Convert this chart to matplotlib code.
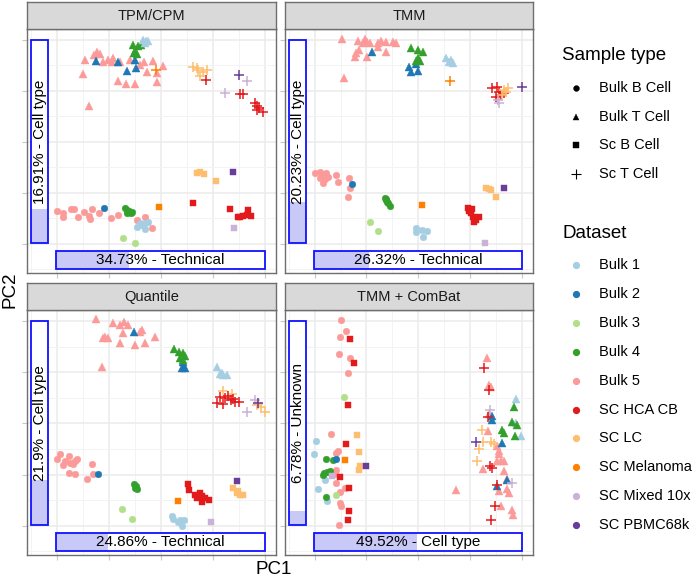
import matplotlib
matplotlib.use("Agg")
import matplotlib.pyplot as plt
from matplotlib.patches import Rectangle

plt.rcParams['font.family'] = ['Liberation Sans', 'DejaVu Sans']

W, H = 692, 579

methods = ['TPM/CPM', 'TMM', 'Quantile', 'TMM + ComBat']
pc1_pct = ['34.73', '26.32', '24.86', '49.52']
pc1_src = ['Technical', 'Technical', 'Technical', 'Cell type']
pc2_pct = ['16.91', '20.23', '21.9', '6.78']
pc2_src = ['Cell type', 'Cell type', 'Cell type', 'Unknown']

sample_types = ['Bulk B Cell', 'Bulk T Cell', 'Sc B Cell', 'Sc T Cell']
type_marker = {'Bulk B Cell': 'o', 'Bulk T Cell': '^', 'Sc B Cell': 's', 'Sc T Cell': '+'}
type_size = {'Bulk B Cell': 4.8, 'Bulk T Cell': 5.8, 'Sc B Cell': 5.0, 'Sc T Cell': 7}

datasets = ['Bulk 1', 'Bulk 2', 'Bulk 3', 'Bulk 4', 'Bulk 5', 'SC HCA CB',
            'SC LC', 'SC Melanoma', 'SC Mixed 10x', 'SC PBMC68k']
ds_colors = ['#A6CEE3', '#1F78B4', '#B2DF8A', '#33A02C', '#FB9A99', '#E31A1C',
             '#FDBF6F', '#FF7F00', '#CAB2D6', '#6A3D9A']

# (dataset, sample type, PC1 scores, PC2 scores)
tpm_groups = [
    ('Bulk 5', 'Bulk T Cell',
     [23.0, 22.2, 24.0, 19.5, 25.0, 26.5, 27.5, 28.0, 30.0, 33.0, 37.2, 39.8, 43.0, 19.0, 38.0, 41.0, 29.5, 31.8, 34.5, 41.2, 20.8, 36.0],
     [-15.5, -16.5, -16.3, -18.0, -18.5, -18.0, -18.5, -17.5, -18.5, -18.0, -18.5, -18.2, -19.8, -22.2, -21.5, -21.8, -24.2, -25.2, -25.2, -24.5, -31.7, -19.5]),
    ('Bulk 2', 'Bulk T Cell', [22.8, 29.3, 34.5, 32.0, 34.8], [-18.3, -18.5, -18.0, -21.2, -20.5]),
    ('Bulk 4', 'Bulk T Cell', [34.0, 35.5, 36.2, 34.5, 35.0, 34.2], [-13.5, -13.8, -13.5, -15.2, -16.2, -16.0]),
    ('Bulk 1', 'Bulk T Cell', [36.8, 37.8, 38.5, 37.4], [-12.0, -12.4, -12.2, -13.0]),
    ('Bulk 5', 'Bulk B Cell',
     [11.0, 13.0, 15.2, 16.2, 13.0, 17.5, 19.2, 21.5, 21.0, 20.7, 23.7, 27.2, 29.5, 37.5, 39.5, 35.2],
     [-63.2, -64.0, -62.6, -62.6, -65.0, -65.0, -63.6, -62.6, -65.7, -64.7, -64.0, -65.5, -64.5, -65.0, -68.5, -66.0]),
    ('Bulk 2', 'Bulk B Cell', [25.2], [-62.5]),
    ('Bulk 4', 'Bulk B Cell', [31.5, 32.0, 32.6, 33.2, 33.7, 32.2], [-62.5, -63.0, -63.4, -63.8, -63.5, -64.0]),
    ('Bulk 1', 'Bulk B Cell', [35.0, 36.0, 37.5, 38.5, 37.5, 36.5], [-68.0, -67.0, -66.8, -66.5, -68.8, -67.6]),
    ('Bulk 3', 'Bulk B Cell', [31.0, 34.5], [-71.5, -73.0]),
    ('SC Melanoma', 'Sc B Cell', [41.8], [-62.0]),
    ('SC LC', 'Sc B Cell', [53.0, 54.0, 55.2, 58.8], [-51.8, -51.5, -52.2, -54.2]),
    ('SC PBMC68k', 'Sc B Cell', [64.0], [-51.5]),
    ('SC HCA CB', 'Sc B Cell', [52.0, 63.0, 65.5, 66.8, 68.0, 69.2, 68.5, 66.0], [-60.8, -62.8, -65.2, -64.8, -64.5, -64.8, -63.0, -65.0]),
    ('SC Mixed 10x', 'Sc B Cell', [64.3], [-68.5]),
    ('SC LC', 'Sc T Cell', [52.0, 53.5, 54.8, 56.2, 54.0, 53.0], [-20.0, -21.0, -21.5, -21.0, -22.8, -20.5]),
    ('SC Melanoma', 'Sc T Cell', [40.8], [-21.0]),
    ('SC HCA CB', 'Sc T Cell', [55.8, 66.0, 66.8, 70.5, 71.0, 71.8, 73.0, 71.2], [-24.0, -28.2, -28.2, -31.0, -31.8, -32.5, -33.5, -33.0]),
    ('SC PBMC68k', 'Sc T Cell', [65.8], [-22.5]),
    ('SC Mixed 10x', 'Sc T Cell', [68.0, 61.5], [-24.3, -28.0]),
]

tmm_groups = [
    ('Bulk 5', 'Bulk T Cell',
     [21.8, 26.5, 28.5, 29.2, 28.0, 30.0, 32.5, 33.5, 35.0, 37.0, 37.8, 26.8, 26.0, 25.5, 29.2, 35.0, 32.5, 22.4],
     [-11.8, -12.2, -11.8, -12.5, -13.0, -12.8, -13.0, -12.2, -12.5, -12.5, -13.0, -15.0, -16.0, -17.0, -17.2, -15.5, -14.0, -23.5]),
    ('Bulk 2', 'Bulk T Cell', [30.7, 42.0, 42.5, 44.5, 44.0], [-15.5, -20.0, -21.5, -21.2, -19.2]),
    ('Bulk 4', 'Bulk T Cell', [42.5, 44.5, 46.0, 44.5, 44.0, 45.2], [-14.5, -15.0, -15.5, -17.5, -18.2, -18.2]),
    ('Bulk 1', 'Bulk T Cell', [53.0, 54.0, 55.2, 54.5], [-17.5, -18.5, -19.0, -18.0]),
    ('SC Melanoma', 'Sc T Cell', [54.3], [-24.3]),
    ('SC HCA CB', 'Sc T Cell', [66.8, 68.5, 69.0, 68.0, 69.5, 70.5], [-26.5, -26.2, -27.5, -29.0, -28.5, -27.8]),
    ('SC LC', 'Sc T Cell', [70.5, 71.2, 71.8, 70.0], [-27.0, -27.5, -26.5, -28.5]),
    ('SC Mixed 10x', 'Sc T Cell', [69.0, 68.8], [-31.0, -30.0]),
    ('SC PBMC68k', 'Sc T Cell', [76.0], [-26.0]),
    ('Bulk 5', 'Bulk B Cell',
     [13.5, 15.0, 15.5, 17.0, 17.5, 16.5, 15.0, 16.0, 20.0, 20.5, 23.7, 24.0, 23.5],
     [-52.0, -51.5, -52.5, -52.0, -53.0, -53.8, -53.5, -55.0, -52.5, -54.5, -53.5, -56.5, -59.0]),
    ('Bulk 2', 'Bulk B Cell', [24.7], [-55.2]),
    ('Bulk 4', 'Bulk B Cell', [34.5, 35.0, 35.5, 36.0, 35.2, 34.8], [-59.5, -60.0, -61.0, -61.7, -60.5, -59.8]),
    ('Bulk 3', 'Bulk B Cell', [30.0, 32.5], [-66.5, -69.2]),
    ('Bulk 1', 'Bulk B Cell', [44.0, 44.0, 45.8, 47.2, 46.2], [-68.3, -69.5, -69.0, -69.2, -71.2]),
    ('SC Melanoma', 'Sc B Cell', [45.7], [-61.6]),
    ('SC LC', 'Sc B Cell', [65.0, 66.5, 68.2, 66.0], [-56.5, -57.0, -59.0, -56.8]),
    ('SC PBMC68k', 'Sc B Cell', [70.5], [-56.3]),
    ('SC HCA CB', 'Sc B Cell', [59.7, 60.5, 61.2, 62.0, 63.0, 61.5, 59.8, 60.8], [-62.5, -64.0, -65.0, -66.0, -65.0, -66.5, -63.2, -62.8]),
    ('SC Mixed 10x', 'Sc B Cell', [64.7], [-73.0]),
]

quant_groups = [
    ('Bulk 5', 'Bulk T Cell',
     [22.8, 28.0, 30.0, 31.2, 32.5, 36.5, 36.0, 40.5, 25.5, 26.5, 30.8, 30.0, 34.5, 37.5, 24.5, 25.0],
     [-12.3, -13.5, -14.0, -13.2, -14.0, -15.5, -16.2, -17.5, -17.5, -18.0, -16.5, -19.5, -20.0, -19.5, -26.5, -17.8]),
    ('Bulk 2', 'Bulk T Cell', [34.2, 48.8, 49.2, 49.6, 48.5], [-16.2, -25.2, -26.5, -27.0, -26.8]),
    ('Bulk 4', 'Bulk T Cell', [46.3, 47.8, 49.0, 49.5, 48.8, 48.0], [-21.2, -22.0, -22.5, -23.2, -24.5, -24.0]),
    ('Bulk 1', 'Bulk T Cell', [59.0, 60.0, 61.0, 62.0, 60.5], [-26.5, -28.5, -29.0, -29.0, -28.2]),
    ('SC LC', 'Sc T Cell', [61.0, 63.5, 71.5, 72.2, 73.5, 71.0], [-33.8, -34.5, -37.5, -38.5, -40.0, -38.0]),
    ('SC HCA CB', 'Sc T Cell', [60.0, 59.0, 61.0, 63.2, 64.0, 64.5, 65.8, 61.5, 62.5], [-35.5, -37.2, -37.5, -36.5, -36.0, -37.0, -37.0, -35.8, -35.2]),
    ('SC Mixed 10x', 'Sc T Cell', [68.0, 70.5], [-40.0, -36.5]),
    ('SC PBMC68k', 'Sc T Cell', [71.5], [-37.2]),
    ('Bulk 5', 'Bulk B Cell',
     [12.0, 11.0, 13.5, 14.8, 15.0, 16.0, 16.5, 17.0, 14.8, 16.5, 20.0, 21.5, 22.0, 13.0],
     [-52.5, -54.0, -54.5, -53.0, -55.0, -55.5, -54.5, -54.0, -58.0, -58.5, -59.8, -55.5, -58.5, -55.8]),
    ('Bulk 2', 'Bulk B Cell', [23.3], [-58.5]),
    ('Bulk 4', 'Bulk B Cell', [34.3, 34.5, 35.0, 34.8], [-61.5, -62.5, -63.0, -62.0]),
    ('Bulk 3', 'Bulk B Cell', [30.5, 33.7], [-68.8, -71.7]),
    ('Bulk 1', 'Bulk B Cell', [45.5, 45.8, 48.0, 49.2, 48.5, 47.5], [-70.8, -71.8, -72.0, -72.2, -73.8, -72.8]),
    ('SC Melanoma', 'Sc B Cell', [47.5], [-66.5]),
    ('SC HCA CB', 'Sc B Cell', [50.5, 50.8, 52.5, 53.0, 54.5, 54.5, 55.5, 56.8, 54.0], [-61.5, -63.2, -64.5, -65.5, -65.0, -66.8, -65.5, -66.0, -64.0]),
    ('SC LC', 'Sc B Cell', [64.0, 65.0, 66.0, 67.0, 65.5], [-62.5, -64.0, -64.5, -64.5, -63.5]),
    ('SC PBMC68k', 'Sc B Cell', [65.0], [-60.5]),
    ('SC Mixed 10x', 'Sc B Cell', [57.2], [-72.8]),
]

combat_groups = [
    ('Bulk 5', 'Bulk B Cell',
     [21.5, 23.0, 21.2, 20.8, 24.2, 23.5, 18.5, 20.5, 20.0, 20.0, 22.5, 21.0, 20.0, 21.0, 21.5, 20.7, 19.5],
     [-12.5, -15.7, -17.7, -22.8, -24.0, -28.3, -46.5, -51.5, -52.2, -57.2, -62.5, -63.7, -61.2, -67.0, -68.0, -73.7, -58.5]),
    ('Bulk 3', 'Bulk B Cell', [22.3, 19.8], [-35.5, -64.5]),
    ('Bulk 1', 'Bulk B Cell', [13.8, 13.3, 16.5, 14.5, 17.3], [-48.7, -52.3, -60.2, -63.0, -66.5]),
    ('Bulk 4', 'Bulk B Cell', [16.8, 19.0, 16.3, 17.2, 18.0, 15.8, 17.0], [-53.8, -54.2, -58.2, -57.8, -57.5, -58.8, -65.2]),
    ('Bulk 2', 'Bulk B Cell', [20.0], [-54.0]),
    ('SC HCA CB', 'Sc B Cell', [24.0, 25.2, 23.5, 22.8, 21.0, 23.7, 23.8, 23.5], [-18.3, -25.5, -38.0, -49.5, -59.3, -62.5, -69.5, -72.0]),
    ('SC LC', 'Sc B Cell', [26.2, 26.8, 27.0, 26.8], [-46.8, -52.0, -56.0, -57.3]),
    ('SC Melanoma', 'Sc B Cell', [22.7], [-54.2]),
    ('SC PBMC68k', 'Sc B Cell', [29.0], [-56.0]),
    ('SC Mixed 10x', 'Sc B Cell', [18.8], [-59.0]),
    ('Bulk 5', 'Bulk T Cell',
     [65.2, 66.0, 66.5, 65.8, 65.5, 68.5, 69.0, 69.0, 69.5, 70.5, 68.5, 64.0, 70.5, 71.5, 69.0, 71.5, 72.0, 69.5, 73.0, 73.2, 56.0],
     [-24.0, -31.8, -32.5, -40.5, -45.5, -50.0, -51.5, -52.5, -54.5, -54.5, -54.5, -57.0, -57.5, -60.0, -63.5, -63.0, -64.0, -68.0, -69.0, -70.5, -63.2]),
    ('Bulk 1', 'Bulk T Cell', [74.2, 74.2, 75.5], [-36.0, -43.2, -47.0]),
    ('Bulk 4', 'Bulk T Cell', [73.5, 73.0, 70.0, 70.5, 73.8, 74.5], [-38.5, -42.8, -45.2, -46.2, -47.0, -43.8]),
    ('Bulk 2', 'Bulk T Cell', [66.8, 70.0, 71.5, 68.5, 66.8], [-41.0, -49.2, -60.3, -62.0, -42.2]),
    ('SC HCA CB', 'Sc T Cell', [64.5, 65.8, 65.5, 66.2, 66.8, 68.5, 67.8, 66.5], [-26.8, -33.5, -41.5, -56.0, -56.5, -61.8, -68.0, -72.0]),
    ('SC LC', 'Sc T Cell', [63.8, 64.0, 63.0, 62.2, 66.5, 67.5], [-45.2, -49.0, -51.0, -54.5, -49.0, -49.5]),
    ('SC Mixed 10x', 'Sc T Cell', [66.2, 73.0], [-39.5, -61.2]),
    ('SC PBMC68k', 'Sc T Cell', [62.0], [-49.0]),
]

panel_groups = [tpm_groups, tmm_groups, quant_groups, combat_groups]
panel_xlim = [(2.1, 76.8), (4.5, 79.2), (2.1, 76.8), (4.5, 79.2)]
panel_ylim = [(-81.9, -8.7), (-81.9, -8.7), (-82.5, -9.6), (-82.5, -9.6)]

# pixel boxes (left, top, right, bottom)
panel_px = [(27, 29, 276, 273), (285, 29, 533, 273), (27, 310, 276, 555), (285, 310, 533, 555)]
strip_px = [(27, 2, 276, 29), (285, 2, 533, 29), (27, 283, 276, 310), (285, 283, 533, 310)]


def px_rect(b):
    x0, y0, x1, y1 = b
    return [x0 / W, 1 - y1 / H, (x1 - x0) / W, (y1 - y0) / H]


fig = plt.figure(figsize=(W / 100, H / 100), dpi=100)
border = '#6e6e6e'
box_blue = '#1010ff'
fill_blue = '#c9c9f7'
color_of = dict(zip(datasets, ds_colors))

for i in range(4):
    ax = fig.add_axes(px_rect(panel_px[i]))
    x0, x1 = panel_xlim[i]
    y0, y1 = panel_ylim[i]
    ax.set_xlim(x0, x1)
    ax.set_ylim(y0, y1)
    fr = [0.015 + 0.1045 * k for k in range(10)]
    ax.set_xticks([x0 + (x1 - x0) * f for f in fr[1::2]])
    ax.set_xticks([x0 + (x1 - x0) * f for f in fr[0::2]], minor=True)
    ax.set_yticks([y0 + (y1 - y0) * f for f in fr[1::2]])
    ax.set_yticks([y0 + (y1 - y0) * f for f in fr[0::2]], minor=True)
    ax.grid(which='major', color='#ebebeb', lw=1.1)
    ax.grid(which='minor', color='#f3f3f3', lw=0.7)
    ax.set_axisbelow(True)
    ax.tick_params(which='major', length=3.5, color='#c8c8c8', labelleft=False, labelbottom=False)
    ax.tick_params(which='minor', length=0)
    for s in ax.spines.values():
        s.set_color(border)
        s.set_linewidth(1.0)

    for ds, st, xs, ys in panel_groups[i]:
        c = color_of[ds]
        m = type_marker[st]
        ax.plot(xs, ys, ls='none', marker=m, ms=type_size[st], mfc=c, mec=c,
                mew=1.1 if m == '+' else 0.3)

    # PC2 variance box (vertical)
    bx0, bx1, by0, by1 = 0.018, 0.086, 0.123, 0.955
    frac = float(pc2_pct[i]) / 100
    ax.add_patch(Rectangle((bx0, by0), bx1 - bx0, by1 - by0, transform=ax.transAxes,
                           facecolor='white', edgecolor='none', zorder=4))
    ax.add_patch(Rectangle((bx0, by0), bx1 - bx0, (by1 - by0) * frac, transform=ax.transAxes,
                           facecolor=fill_blue, edgecolor='none', zorder=5))
    ax.add_patch(Rectangle((bx0, by0), bx1 - bx0, by1 - by0, transform=ax.transAxes,
                           facecolor='none', edgecolor=box_blue, lw=1.3, zorder=6))
    ax.text((bx0 + bx1) / 2, (by0 + by1) / 2, f'{pc2_pct[i]}% - {pc2_src[i]}', rotation=90,
            transform=ax.transAxes, ha='center', va='center', fontsize=11, zorder=7)

    # PC1 variance box (horizontal)
    hx0, hx1, hy0, hy1 = 0.116, 0.956, 0.016, 0.09
    frac = float(pc1_pct[i]) / 100
    ax.add_patch(Rectangle((hx0, hy0), hx1 - hx0, hy1 - hy0, transform=ax.transAxes,
                           facecolor='white', edgecolor='none', zorder=4))
    ax.add_patch(Rectangle((hx0, hy0), (hx1 - hx0) * frac, hy1 - hy0, transform=ax.transAxes,
                           facecolor=fill_blue, edgecolor='none', zorder=5))
    ax.add_patch(Rectangle((hx0, hy0), hx1 - hx0, hy1 - hy0, transform=ax.transAxes,
                           facecolor='none', edgecolor=box_blue, lw=1.3, zorder=6))
    ax.text((hx0 + hx1) / 2, (hy0 + hy1) / 2, f'{pc1_pct[i]}% - {pc1_src[i]}',
            transform=ax.transAxes, ha='center', va='center', fontsize=11, zorder=7)

    sax = fig.add_axes(px_rect(strip_px[i]))
    sax.set_facecolor('#d9d9d9')
    sax.set_xticks([])
    sax.set_yticks([])
    for s in sax.spines.values():
        s.set_color(border)
        s.set_linewidth(1.0)
    sax.text(0.5, 0.48, methods[i], ha='center', va='center', fontsize=10.5, color='#1a1a1a')

fig.text(274 / W, 1 - 570 / H, 'PC1', ha='center', va='center', fontsize=13.5)
fig.text(10 / W, 1 - 290 / H, 'PC2', ha='center', va='center', fontsize=13.5, rotation=90)

# legends
lax = fig.add_axes([0, 0, 1, 1], zorder=-1)
lax.set_xlim(0, W)
lax.set_ylim(H, 0)
lax.axis('off')
lax.text(562, 55, 'Sample type', ha='left', va='center', fontsize=13.5)
for k, st in enumerate(sample_types):
    yy = 88 + 28.7 * k
    m = type_marker[st]
    lax.plot([576], [yy], ls='none', marker=m, color='black',
             ms={'o': 4.2, '^': 5.0, 's': 4.3, '+': 7.5}[m], mew=0.8 if m == '+' else 0.3)
    lax.text(599, yy, st, ha='left', va='center', fontsize=10.5)
lax.text(562, 233, 'Dataset', ha='left', va='center', fontsize=13.5)
for k, ds in enumerate(datasets):
    yy = 265 + 28.9 * k
    lax.plot([576], [yy], ls='none', marker='o', ms=4.2, color=ds_colors[k])
    lax.text(599, yy, ds, ha='left', va='center', fontsize=10.5)

fig.savefig('out.png', dpi=100)
